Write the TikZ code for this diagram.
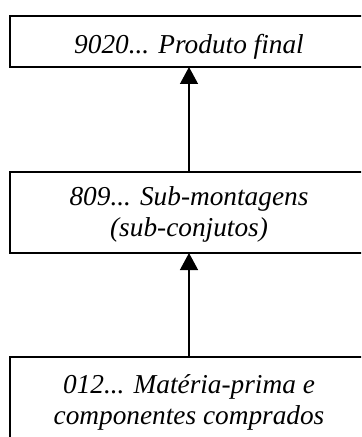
\documentclass[tikz,border=0pt]{standalone}
\usepackage{fontspec}
\setmainfont{Liberation Serif}
\usetikzlibrary{arrows.meta}
\begin{document}
\begin{tikzpicture}[x=1bp,y=-1bp,
  boxstyle/.style={draw=black,line width=1.5bp,minimum width=358bp,inner sep=0pt,outer sep=0pt},
  txtstyle/.style={font=\fontsize{27.3bp}{30.5bp}\selectfont\itshape,align=center,inner sep=0pt,anchor=base},
  arr/.style={line width=1.3bp,-{Triangle[width=18bp,length=17bp]}}]
\useasboundingbox (0,0) rectangle (361,437);
\clip (0,0) rectangle (361,437);
\fill[white] (0,0) rectangle (361,437);
\node[boxstyle,minimum height=51bp] (b1) at (189,41.5) {};
\node[boxstyle,minimum height=81bp] (b2) at (189,212.5) {};
\node[boxstyle,minimum height=81bp] (b3) at (189,397.5) {};
\node[txtstyle] (t1) at (189,53.3) {9020... Produto final};
\node[txtstyle] (t2) at (189,236.5) {809... Sub-montagens\\(sub-conjutos)};
\node[txtstyle] (t3) at (189,424) {012... Matéria-prima e\\componentes comprados};
\draw[arr] (b2.north) -- (b1.south);
\draw[arr] (b3.north) -- (b2.south);
\end{tikzpicture}
\end{document}
